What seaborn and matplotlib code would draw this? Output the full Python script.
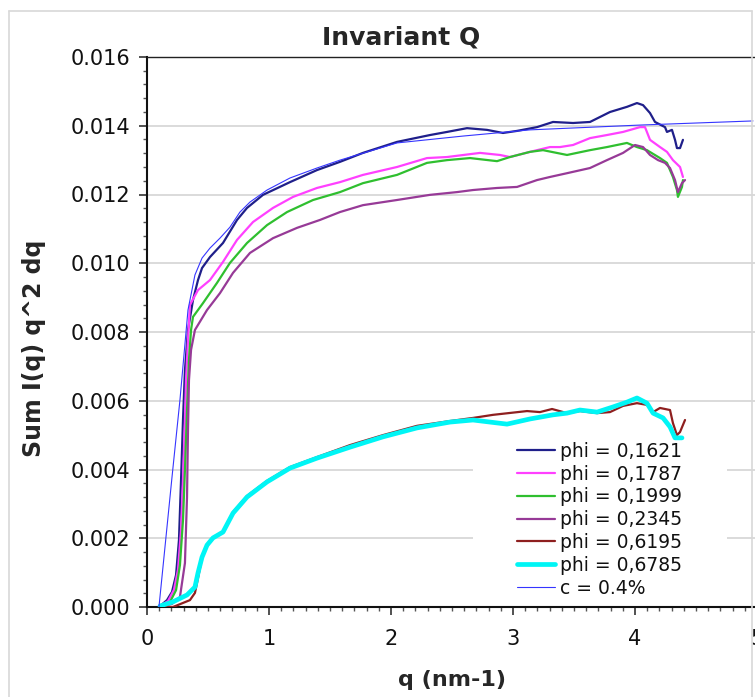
"""Invariant Q: cumulative Sum I(q) q^2 dq against q for the phi series and the c = 0.4% reference."""
import matplotlib
matplotlib.use("Agg")
import matplotlib.pyplot as plt
from matplotlib.lines import Line2D
from matplotlib.patches import Rectangle
from matplotlib.ticker import MultipleLocator, FormatStrFormatter
import seaborn as sns

# values
q_1621 = [0.098, 0.164, 0.205, 0.238, 0.262, 0.279, 0.295, 0.311, 0.336, 0.377, 0.418, 0.451,
          0.516, 0.623, 0.738, 0.820, 0.951, 1.172, 1.393, 1.582, 1.770, 2.049, 2.320, 2.459,
          2.623, 2.787, 2.918, 3.033, 3.197, 3.328, 3.492, 3.631, 3.795, 3.934, 4.016, 4.066,
          4.123, 4.164, 4.246, 4.262, 4.303, 4.328, 4.344, 4.369, 4.393]
y_1621 = [0.0, 0.0002, 0.00044, 0.00093, 0.00195, 0.00369, 0.00544, 0.00689, 0.00806, 0.00893,
          0.00951, 0.00986, 0.01018, 0.01059, 0.01126, 0.01161, 0.01199, 0.01236, 0.01271,
          0.01295, 0.01321, 0.01353, 0.01373, 0.01382, 0.01393, 0.01388, 0.01379, 0.01385,
          0.01396, 0.01411, 0.01408, 0.01411, 0.0144, 0.01455, 0.01466, 0.0146, 0.01437,
          0.01411, 0.01396, 0.01382, 0.01388, 0.01359, 0.01335, 0.01335, 0.01359]

q_1787 = [0.098, 0.172, 0.221, 0.254, 0.279, 0.295, 0.311, 0.320, 0.336, 0.352, 0.418, 0.516,
          0.623, 0.738, 0.869, 1.033, 1.197, 1.393, 1.582, 1.770, 2.049, 2.295, 2.459, 2.730,
          2.893, 2.975, 3.139, 3.303, 3.385, 3.492, 3.631, 3.770, 3.902, 4.041, 4.082, 4.123,
          4.205, 4.262, 4.311, 4.369, 4.393]
y_1787 = [0.0, 0.00017, 0.0005, 0.00108, 0.00224, 0.00369, 0.00544, 0.0066, 0.00777, 0.00879,
          0.00922, 0.00951, 0.01004, 0.01068, 0.0112, 0.01161, 0.01193, 0.01219, 0.01236,
          0.01257, 0.0128, 0.01306, 0.01309, 0.01321, 0.01315, 0.01309, 0.01324, 0.01338,
          0.01338, 0.01344, 0.01364, 0.01373, 0.01382, 0.01396, 0.01396, 0.01359, 0.01338,
          0.01324, 0.013, 0.0128, 0.01251]

q_1999 = [0.098, 0.189, 0.238, 0.270, 0.295, 0.311, 0.328, 0.344, 0.361, 0.377, 0.459, 0.574,
          0.680, 0.820, 0.984, 1.148, 1.361, 1.582, 1.770, 2.049, 2.295, 2.459, 2.648, 2.869,
          2.975, 3.139, 3.246, 3.443, 3.631, 3.770, 3.934, 4.016, 4.098, 4.205, 4.262, 4.311,
          4.344, 4.352, 4.385, 4.393]
y_1999 = [0.0, 0.00015, 0.00049, 0.00122, 0.00253, 0.00399, 0.00573, 0.00719, 0.00806, 0.00844,
          0.00884, 0.00943, 0.01001, 0.01059, 0.01111, 0.01149, 0.01184, 0.01207, 0.01233,
          0.01257, 0.01292, 0.013, 0.01306, 0.01297, 0.01309, 0.01324, 0.01329, 0.01315,
          0.01329, 0.01338, 0.0135, 0.01338, 0.01329, 0.01306, 0.01292, 0.01251, 0.01213,
          0.01193, 0.01222, 0.01242]

q_2345 = [0.098, 0.205, 0.270, 0.311, 0.328, 0.336, 0.344, 0.361, 0.393, 0.492, 0.598, 0.705,
          0.844, 1.033, 1.230, 1.418, 1.582, 1.770, 2.049, 2.320, 2.541, 2.672, 2.869, 3.033,
          3.197, 3.303, 3.443, 3.631, 3.770, 3.902, 4.000, 4.066, 4.123, 4.189, 4.246, 4.287,
          4.328, 4.352, 4.385, 4.410]
y_2345 = [0.0, 0.00009, 0.00029, 0.00128, 0.0032, 0.00515, 0.0066, 0.00748, 0.00806, 0.00864,
          0.00913, 0.00972, 0.0103, 0.01073, 0.01103, 0.01126, 0.01149, 0.01169, 0.01184,
          0.01199, 0.01207, 0.01213, 0.01219, 0.01222, 0.01242, 0.01251, 0.01262, 0.01277,
          0.013, 0.01321, 0.01344, 0.01338, 0.01315, 0.013, 0.01292, 0.01277, 0.01242,
          0.01207, 0.01233, 0.01242]

q_6195 = [0.098, 0.213, 0.352, 0.393, 0.418, 0.451, 0.492, 0.541, 0.623, 0.705, 0.820, 0.984,
          1.172, 1.393, 1.664, 1.934, 2.213, 2.484, 2.672, 2.836, 3.115, 3.221, 3.320, 3.443,
          3.549, 3.689, 3.795, 3.902, 4.016, 4.098, 4.148, 4.205, 4.287, 4.311, 4.344, 4.369,
          4.410]
y_6195 = [0.0, 0.0, 0.0002, 0.00041, 0.00084, 0.00143, 0.00177, 0.00201, 0.00218, 0.00276,
          0.00323, 0.00367, 0.00407, 0.00436, 0.00471, 0.005, 0.00527, 0.00541, 0.0055,
          0.00559, 0.0057, 0.00567, 0.00576, 0.00564, 0.0057, 0.00564, 0.00567, 0.00585,
          0.00593, 0.00588, 0.00567, 0.00579, 0.00573, 0.00535, 0.005, 0.00509, 0.00544]

q_6785 = [0.107, 0.213, 0.328, 0.393, 0.418, 0.451, 0.492, 0.541, 0.623, 0.705, 0.820, 0.984,
          1.172, 1.393, 1.664, 1.934, 2.213, 2.484, 2.672, 2.811, 2.951, 3.139, 3.328, 3.443,
          3.549, 3.689, 3.820, 3.934, 4.016, 4.098, 4.148, 4.230, 4.287, 4.328, 4.385]
y_6785 = [0.00003, 0.00015, 0.00035, 0.00058, 0.00099, 0.00145, 0.0018, 0.00201, 0.00218,
          0.00273, 0.0032, 0.00364, 0.00404, 0.00433, 0.00465, 0.00495, 0.00521, 0.00538,
          0.00544, 0.00538, 0.00532, 0.00547, 0.00559, 0.00564, 0.00573, 0.00567, 0.00582,
          0.00596, 0.00608, 0.00593, 0.00564, 0.0055, 0.00524, 0.00492, 0.00492]

q_c04 = [0.098, 0.205, 0.270, 0.336, 0.393, 0.451, 0.516, 0.598, 0.680, 0.762, 0.844, 0.984,
         1.172, 1.393, 1.582, 2.049, 2.590, 3.139, 4.041, 4.967]
y_c04 = [0.0, 0.00378, 0.00602, 0.00864, 0.00966, 0.01015, 0.01044, 0.01073, 0.01105, 0.01149,
         0.01178, 0.01213, 0.01248, 0.01277, 0.013, 0.0135, 0.0137, 0.01388, 0.01402, 0.01414]

labels = ["phi = 0,1621", "phi = 0,1787", "phi = 0,1999", "phi = 0,2345",
          "phi = 0,6195", "phi = 0,6785", "c = 0.4%"]

series = [
    (q_1621, y_1621, "#1f1f8a", 1.6),
    (q_1787, y_1787, "#ff40ff", 1.6),
    (q_1999, y_1999, "#2fbf2f", 1.6),
    (q_2345, y_2345, "#973a97", 1.6),
    (q_6195, y_6195, "#8e1f1f", 1.6),
    (q_6785, y_6785, "#00f5f5", 3.4),
    (q_c04, y_c04, "#3535ff", 0.8),
]

sns.set_style("white")
plt.rcParams["font.family"] = ["DejaVu Sans"]

W, H = 755, 697
fig = plt.figure(figsize=(W / 100, H / 100), dpi=100)
ax = fig.add_axes([147 / W, 1 - 607 / H, 610 / W, 550 / H])

# light chart-area frame
for xs, ys in [([9 / W, 752 / W], [1 - 11 / H, 1 - 11 / H]),
               ([9 / W, 9 / W], [1 - 11 / H, 0]),
               ([752 / W, 752 / W], [1 - 11 / H, 0])]:
    fig.add_artist(Line2D(xs, ys, transform=fig.transFigure, color="#d8d8d8", lw=1.2))

for (qq, yy, col, lw), lab in zip(series, labels):
    sns.lineplot(x=qq, y=yy, ax=ax, color=col, lw=lw, label=lab, sort=False,
                 estimator=None, zorder=3)

ax.set_xlim(0, 5)
ax.set_ylim(0, 0.016)
ax.xaxis.set_major_locator(MultipleLocator(1))
ax.xaxis.set_minor_locator(MultipleLocator(0.1))
ax.yaxis.set_major_locator(MultipleLocator(0.002))
ax.yaxis.set_minor_locator(MultipleLocator(0.0004))
ax.yaxis.set_major_formatter(FormatStrFormatter("%.3f"))
ax.tick_params(which="major", direction="out", length=6, width=1.2, labelsize=15,
               pad=6, color="#333333", labelcolor="#111111")
ax.tick_params(axis="x", which="major", pad=10)
ax.tick_params(which="minor", direction="out", length=3, width=1.0, color="#555555")
ax.tick_params(axis="y", which="both", left=True)
ax.tick_params(axis="x", which="both", bottom=True)

ax.grid(axis="y", which="major", color="#d4d4d4", lw=1.2)
ax.set_axisbelow(True)
for side in ["left", "bottom"]:
    ax.spines[side].set_color("#111111")
    ax.spines[side].set_linewidth(1.5)
ax.spines["top"].set_color("#222222")
ax.spines["top"].set_linewidth(1.0)
ax.spines["right"].set_visible(False)

# white legend backdrop that hides the grid lines
ax.add_patch(Rectangle((0.534, 0.013), 0.417, 0.287, transform=ax.transAxes,
                       facecolor="white", edgecolor="none", zorder=1))
leg = ax.legend(loc="upper left", bbox_to_anchor=(0.607, 0.300), frameon=False,
                fontsize=13.5, handlelength=2.0, handletextpad=0.3, labelspacing=0.2,
                borderpad=0, borderaxespad=0)
for t in leg.get_texts():
    t.set_color("#111111")

ax.set_xlabel("q (nm-1)", fontsize=16, fontweight="bold")
ax.set_ylabel("Sum I(q) q^2 dq", fontsize=17, fontweight="bold")
ax.xaxis.set_label_coords(0.5, -0.115)
ax.yaxis.set_label_coords(-0.166, 0.47)
fig.text(401 / W, 1 - 38 / H, "Invariant Q", ha="center", va="center",
         fontsize=18, fontweight="bold")

fig.savefig("out.png", dpi=100)
